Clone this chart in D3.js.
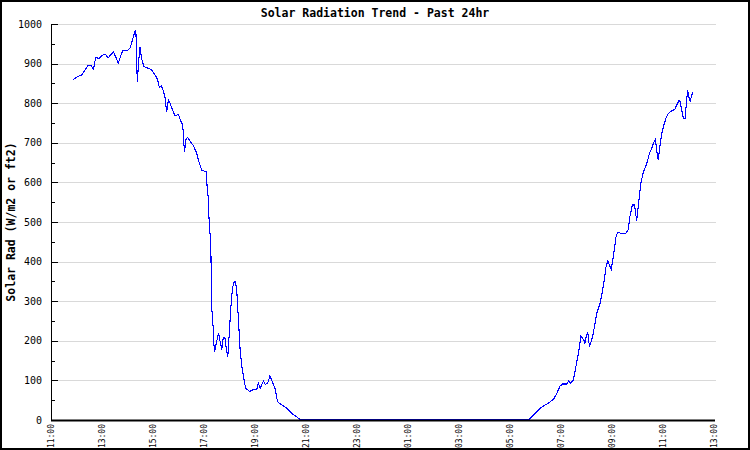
<!DOCTYPE html>
<html>
<head>
<meta charset="utf-8">
<script src="https://cdn.jsdelivr.net/npm/d3@7"></script>
<style>
  html, body { margin: 0; padding: 0; background: #fff; }
  svg { display: block; }
</style>
</head>
<body>
<svg id="chart" width="750" height="450"></svg>
<script>
const chartTitle = "Solar Radiation Trend - Past 24hr";
const yAxisTitle = "Solar Rad (W/m2 or ft2)";
const xTickLabels = ["11:00","13:00","15:00","17:00","19:00","21:00","23:00","01:00","03:00","05:00","07:00","09:00","11:00","13:00"];
const yTicks = [0,100,200,300,400,500,600,700,800,900,1000];

// Observation times (HH:MM, rolling over midnight) and solar radiation values
const times = [
 "11:52","12:04","12:12","12:20","12:28","12:34","12:40","12:45","12:54","12:59",
 "13:07","13:15","13:27","13:33","13:38","13:49","13:58","14:06","14:18","14:20",
 "14:22","14:23","14:25","14:29","14:33","14:39","14:45","14:57","15:05","15:11",
 "15:15","15:19","15:23","15:28","15:32","15:36","15:40","15:46","15:52","16:00",
 "16:05","16:10","16:14","16:18","16:22","16:29","16:35","16:43","16:49","16:55",
 "17:05","17:06","17:10","17:12","17:16","17:17","17:18","17:22","17:23","17:25",
 "17:28","17:34","17:38","17:42","17:45","17:49","17:53","17:56","17:59","18:03",
 "18:07","18:11","18:14","18:17","18:21","18:25","18:29","18:33","18:38","18:48",
 "18:56","19:04","19:08","19:12","19:20","19:24","19:30","19:35","19:39","19:47",
 "19:53","20:03","20:15","20:26","20:38","20:48","21:00","23:00","01:00","03:00",
 "05:00","05:45","05:59","06:11","06:22","06:30","06:38","06:44","06:50","06:58",
 "07:04","07:13","07:18","07:23","07:29","07:33","07:37","07:41","07:45","07:47",
 "07:51","07:54","07:56","07:59","08:03","08:07","08:11","08:16","08:24","08:32",
 "08:36","08:40","08:46","08:50","08:54","08:58","09:02","09:06","09:09","09:13",
 "09:23","09:31","09:38","09:42","09:48","09:53","09:58","10:02","10:08","10:14",
 "10:22","10:28","10:33","10:39","10:42","10:47","10:49","10:53","10:57","11:01",
 "11:07","11:12","11:18","11:28","11:32","11:38","11:40","11:44","11:48","11:52",
 "11:56","11:58","12:01","12:04","12:10"
];
const values = [
 860,868,871,884,896,895,886,915,913,920,
 924,915,930,915,901,934,932,939,983,974,
 896,854,884,943,913,892,890,884,871,859,
 839,844,836,817,777,808,800,783,768,772,
 755,745,676,711,713,701,693,673,648,631,
 627,606,560,505,442,370,286,227,194,173,
 189,220,198,178,206,209,177,160,210,282,
 333,349,349,328,253,177,135,109,80,72,
 77,76,93,80,99,90,94,111,101,80,
 46,38,30,17,8,0,0,0,0,0,
 0,2,17,30,38,42,49,55,67,86,
 91,91,98,93,101,122,147,168,198,212,
 206,202,192,210,220,185,198,219,269,295,
 316,341,387,402,391,380,404,434,460,474,
 471,470,480,513,543,543,503,543,598,627,
 648,673,684,703,709,665,657,694,722,741,
 762,773,779,785,795,808,804,783,762,762,
 812,832,815,806,829
];

// Convert HH:MM strings to hours since 11:00 (start of axis), rolling over midnight
const startHour = 11;
let prev = -1, dayOffset = 0;
const data = times.map((t, i) => {
  const [hh, mm] = t.split(":").map(Number);
  let h = hh + mm / 60;
  if (prev >= 0 && h + dayOffset < prev) dayOffset += 24;
  h += dayOffset;
  prev = h;
  return { h: h - startHour, v: values[i] };
});

const svg = d3.select("#chart");
const W = 750, H = 450;
const margin = { left: 51, right: 36, top: 24, bottom: 30 };

svg.append("rect").attr("x", 0).attr("y", 0).attr("width", W).attr("height", H).attr("fill", "#fff");

const x = d3.scaleLinear().domain([0, 26]).range([margin.left, W - margin.right]);
const y = d3.scaleLinear().domain([0, 1000]).range([H - margin.bottom, margin.top]);

const mono = "'DejaVu Sans Mono', 'Liberation Mono', monospace";

// Gridlines
svg.append("g")
  .selectAll("line")
  .data(yTicks.filter(d => d > 0))
  .join("line")
  .attr("x1", x(0)).attr("x2", x(26) + 2)
  .attr("y1", d => Math.round(y(d)) + 0.5).attr("y2", d => Math.round(y(d)) + 0.5)
  .attr("stroke", "#d9d9d9").attr("stroke-width", 1);

// Y axis ticks (inward), major and minor
const minorTicks = d3.range(50, 1000, 100);
svg.append("g").selectAll("line").data(yTicks).join("line")
  .attr("x1", x(0)).attr("x2", x(0) + 7)
  .attr("y1", d => Math.round(y(d)) + 0.5).attr("y2", d => Math.round(y(d)) + 0.5)
  .attr("stroke", "#000");
svg.append("g").selectAll("line").data(minorTicks).join("line")
  .attr("x1", x(0)).attr("x2", x(0) + 4)
  .attr("y1", d => Math.round(y(d)) + 0.5).attr("y2", d => Math.round(y(d)) + 0.5)
  .attr("stroke", "#000");

// Y tick labels
svg.append("g").selectAll("text").data(yTicks).join("text")
  .attr("x", 42).attr("y", d => y(d)).attr("dy", "0.35em")
  .attr("text-anchor", "end")
  .attr("font-family", mono).attr("font-size", "10px").attr("fill", "#000")
  .text(d => d);

// Data line
const line = d3.line().x(d => x(d.h)).y(d => y(d.v));
svg.append("path").datum(data)
  .attr("d", line)
  .attr("fill", "none").attr("stroke", "#0000ff").attr("stroke-width", 1.1)
  .attr("shape-rendering", "crispEdges");

// Axis lines
svg.append("line")
  .attr("x1", Math.round(x(0)) + 0.5).attr("x2", Math.round(x(0)) + 0.5)
  .attr("y1", y(1000)).attr("y2", y(0) + 1)
  .attr("stroke", "#000").attr("stroke-width", 1);
svg.append("line")
  .attr("x1", x(0)).attr("x2", x(26) + 1)
  .attr("y1", Math.round(y(0)) + 0.5).attr("y2", Math.round(y(0)) + 0.5)
  .attr("stroke", "#000").attr("stroke-width", 2);

// X tick labels (rotated)
svg.append("g").selectAll("text").data(xTickLabels).join("text")
  .attr("transform", (d, i) => `translate(${x(i * 2)},${y(0) + 4}) rotate(-90)`)
  .attr("text-anchor", "end").attr("dy", "0.35em")
  .attr("font-family", mono).attr("font-size", "8px").attr("fill", "#000")
  .text(d => d);

// Title
svg.append("text")
  .attr("x", 375).attr("y", 17)
  .attr("text-anchor", "middle")
  .attr("font-family", mono).attr("font-size", "11.5px").attr("font-weight", "bold")
  .text(chartTitle);

// Y axis title
svg.append("text")
  .attr("transform", `translate(15,${(y(0) + y(1000)) / 2}) rotate(-90)`)
  .attr("text-anchor", "middle")
  .attr("font-family", mono).attr("font-size", "11.5px").attr("font-weight", "bold")
  .text(yAxisTitle);

// Outer border
svg.append("rect").attr("x", 1).attr("y", 1).attr("width", W - 2).attr("height", H - 2)
  .attr("fill", "none").attr("stroke", "#000").attr("stroke-width", 2);
</script>
</body>
</html>
